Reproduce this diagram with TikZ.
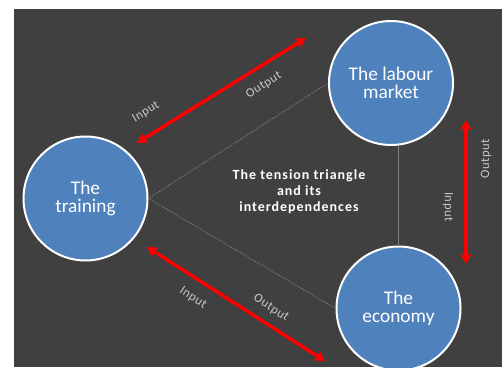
\documentclass[tikz,border=0pt]{standalone}
\usepackage{fontspec}
\setmainfont{Carlito}
\usetikzlibrary{arrows.meta}

\definecolor{slate}{RGB}{64,64,64}
\definecolor{ballblue}{RGB}{79,129,189}
\definecolor{tagfont}{RGB}{200,200,200}
\definecolor{linkgrey}{RGB}{150,150,150}

\tikzset{
  ball/.style={circle,draw=white,line width=1.5pt,fill=ballblue,minimum size=93pt,
    inner sep=0pt,align=center,text=white,font=\fontsize{14.5}{13.5}\selectfont},
  flow/.style={draw={rgb,255:red,255;green,0;blue,0},line width=2.6pt,
    {Triangle[length=7pt,width=7.5pt]}-{Triangle[length=7pt,width=7.5pt]}},
  tag/.style={text=tagfont,inner sep=0.75pt,
    font=\fontsize{9.5}{9.5}\selectfont\addfontfeatures{LetterSpace=4}},
  dotlink/.style={draw=linkgrey,densely dotted,line width=0.6pt},
}

\begin{document}
\begin{tikzpicture}[x=0.75pt,y=0.75pt,yscale=-1,xscale=1]
\useasboundingbox (0,0) rectangle (502,367);
% background
\fill [white] (0,0) rectangle (502,367);
\fill [slate] (14,9) rectangle (502,367);

% Circles
\node [ball] (training) at (85.5,198.5) {The\\training};
\node [ball] (labour) at (391,83) {The labour\\market};
\node [ball] (economy) at (398.5,308.5) {The\\economy};

% Grey links
\draw [dotlink] (training.east) -- (labour.west);
\draw [dotlink] (training.east) -- (economy.west);
\draw [draw=gray,line width=1pt] (economy.north) -- (labour.south -| economy.north);

% Text Node
\node [text=white,align=center,inner sep=0.75pt,
  font=\bfseries\fontsize{10.5}{12}\selectfont\addfontfeatures{LetterSpace=7}] (tension) at (299,192)
  {The tension triangle\\and its\\interdependences};

% Red arrows
\coordinate (a1) at (137,143);
\coordinate (a2) at (306,38);
\coordinate (b1) at (466,120);
\coordinate (b2) at (466,264);
\coordinate (c1) at (147,247);
\coordinate (c2) at (325,361);
\draw [flow] (a1) -- (a2);
\draw [flow] (b1) -- (b2);
\draw [flow] (c1) -- (c2);

% Input / Output
\node [tag,rotate=32] (ain) at (146,112) {Input};
\node [tag,rotate=32] (aout) at (264,85) {Output};
\node [tag,rotate=90] (bout) at (486,159) {Output};
\node [tag,rotate=-90] (bin) at (448,207) {Input};
\node [tag,rotate=-33] (cin) at (193,298) {Input};
\node [tag,rotate=-33] (cout) at (271,308) {Output};

\end{tikzpicture}
\end{document}
